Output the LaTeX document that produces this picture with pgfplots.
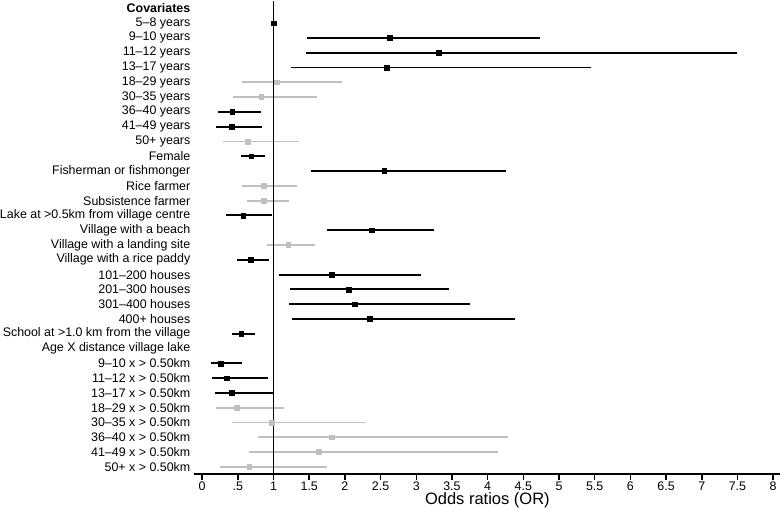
\documentclass[border=0pt]{standalone}
\usepackage{pgfplots}
\usepackage{pgfplotstable}
\pgfplotsset{compat=1.18}
\usepackage{fontspec}
\setmainfont{Liberation Sans}
\definecolor{ngray}{HTML}{C0C0C0}

% rows: y = row index from top; or = odds ratio; lo/hi = CI
\pgfplotstableread{
y or lo hi
2 1.00 1.00 1.00
3 2.63 1.467 4.74
4 3.31 1.46 7.50
5 2.59 1.24 5.45
8 0.42 0.216 0.82
9 0.41 0.20 0.84
11 0.687 0.543 0.88
12 2.55 1.53 4.26
15 0.575 0.335 0.976
16 2.38 1.745 3.25
18 0.676 0.49 0.933
19 1.82 1.077 3.07
20 2.055 1.227 3.455
21 2.135 1.22 3.75
22 2.35 1.26 4.38
23 0.548 0.415 0.74
25 0.254 0.121 0.553
26 0.34 0.131 0.922
27 0.41 0.174 1.00
}\sigdata
\pgfplotstableread{
y or lo hi
6 1.045 0.56 1.96
7 0.826 0.425 1.61
10 0.64 0.297 1.35
13 0.863 0.56 1.33
14 0.863 0.623 1.21
17 1.205 0.912 1.585
28 0.479 0.20 1.147
29 0.976 0.415 2.30
30 1.82 0.778 4.29
31 1.633 0.65 4.145
32 0.66 0.254 1.75
}\nsdata

\begin{document}
\begin{tikzpicture}
\begin{axis}[
  scale only axis,
  width=587bp, height=474bp,
  xmin=-0.108, xmax=8.10,
  ymin=0.49, ymax=32.47,
  y dir=reverse,
  axis x line*=bottom,
  axis y line*=left,
  y axis line style={draw=none},
  ytick={1,...,32},
  ytick style={draw=none},
  yticklabels={{\bfseries Covariates},5--8 years,9--10 years,11--12 years,13--17 years,18--29 years,30--35 years,36--40 years,41--49 years,50+ years,Female,Fisherman or fishmonger,Rice farmer,Subsistence farmer,Lake at >0.5km from village centre,Village with a beach,Village with a landing site,Village with a rice paddy,101--200 houses,201--300 houses,301--400 houses,400+ houses,School at >1.0 km from the village,Age X distance village lake,9--10 x > 0.50km,11--12 x > 0.50km,13--17 x > 0.50km,18--29 x > 0.50km,30--35 x > 0.50km,36--40 x > 0.50km,41--49 x > 0.50km,50+ x > 0.50km},
  yticklabel style={font=\fontsize{12.5}{14}\selectfont, inner sep=0pt, xshift=-4bp},
  xtick={0,0.5,1,1.5,2,2.5,3,3.5,4,4.5,5,5.5,6,6.5,7,7.5,8},
  xticklabels={0,.5,1,1.5,2,2.5,3,3.5,4,4.5,5,5.5,6,6.5,7,7.5,8},
  xtick align=outside,
  major tick length=6bp,
  xtick style={line width=1.5bp, black},
  x axis line style={line width=1.5bp},
  xticklabel style={font=\fontsize{12.5}{14}\selectfont, inner sep=1bp, yshift=-1bp},
  xlabel={Odds ratios (OR)},
  xlabel style={font=\fontsize{16.6}{18}\selectfont, inner sep=0pt, yshift=-1bp},
  clip=false,
]
\addplot[only marks, mark=square*, mark size=2.4bp, color=ngray,
  error bars/.cd, x dir=both, x explicit, error mark=none,
  error bar style={line width=1.9bp, color=ngray}]
  table[x=or, y=y, x error plus expr=\thisrow{hi}-\thisrow{or}, x error minus expr=\thisrow{or}-\thisrow{lo}] {\nsdata};
\addplot[black, line width=1.6bp, mark=none] coordinates {(1,0.49) (1,32.47)};
\addplot[only marks, mark=square*, mark size=2.4bp, color=black,
  error bars/.cd, x dir=both, x explicit, error mark=none,
  error bar style={line width=1.9bp, color=black}]
  table[x=or, y=y, x error plus expr=\thisrow{hi}-\thisrow{or}, x error minus expr=\thisrow{or}-\thisrow{lo}] {\sigdata};
\end{axis}
\end{tikzpicture}
\end{document}
